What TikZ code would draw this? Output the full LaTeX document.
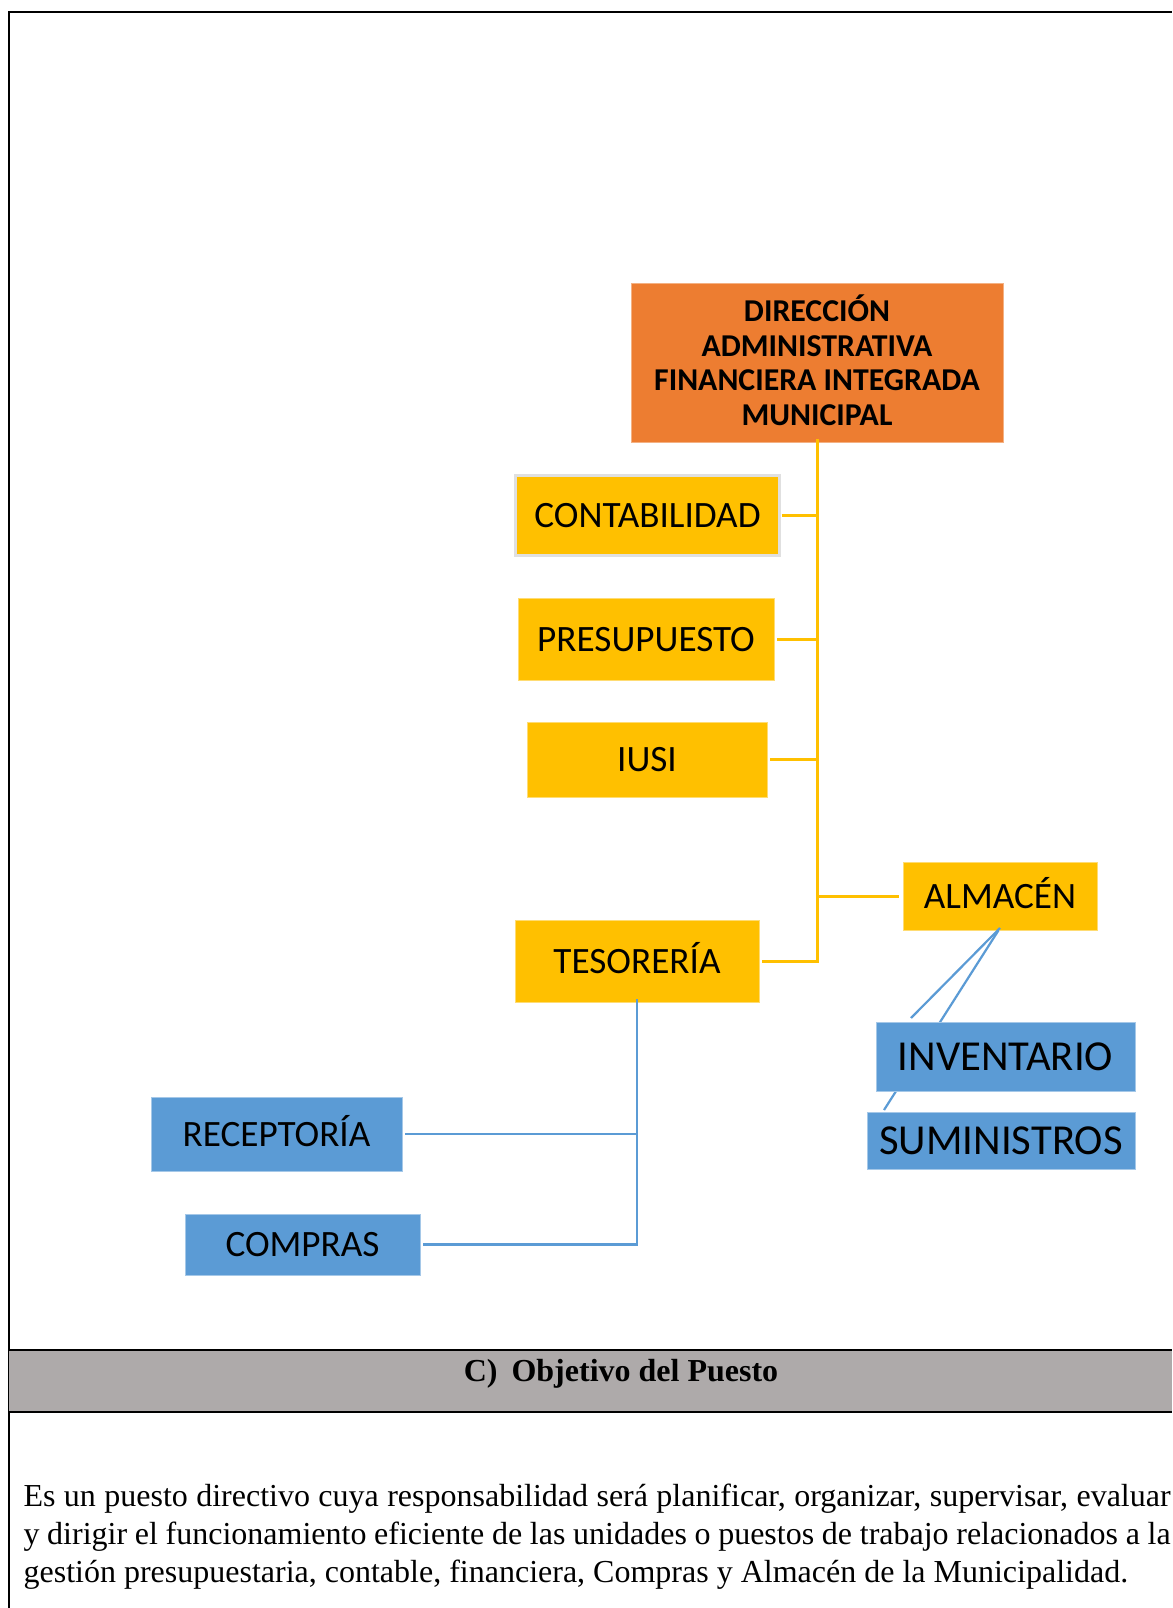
\documentclass[tikz,border=0pt]{standalone}
\usepackage{fontspec}
\setmainfont{Liberation Serif}
\newfontfamily\carl{Carlito}
\usetikzlibrary{calc,backgrounds}
\definecolor{orng}{HTML}{ED7D31}
\definecolor{ylw}{HTML}{FFC000}
\definecolor{blu}{HTML}{5B9BD5}
\definecolor{bandc}{HTML}{AEAAAA}
\tikzset{
  sz/.style 2 args={minimum width=#1pt, minimum height=#2pt, inner sep=0pt, outer sep=0pt},
  ybox/.style={fill=ylw, draw=ylw!55!white, line width=0.8pt,
    font=\carl\fontsize{37.2}{44}\selectfont, text height=24pt, text depth=0pt},
  bbox/.style={fill=blu, draw=blu!55!white, line width=0.8pt,
    font=\carl\fontsize{37.2}{44}\selectfont, text height=24pt, text depth=0pt},
  bboxbig/.style={bbox, font=\carl\fontsize{42.7}{50}\selectfont, text height=27.5pt},
  obox/.style={fill=orng, draw=orng!60!white, line width=0.8pt, align=center,
    font=\carl\bfseries\fontsize{31.8}{34.5}\selectfont},
  yline/.style={draw=ylw, line width=3pt},
  bline/.style={draw=blu, line width=2.8pt},
  frame/.style={draw=black, line width=2.5pt},
  para/.style={font=\fontsize{32}{38}\selectfont, inner sep=0pt, outer sep=0pt},
}
\begin{document}
\begin{tikzpicture}[x=1pt, y=-1pt]
\useasboundingbox (0,0) rectangle (1172,1608);

% frame and band
\draw[frame] (9,1608) -- (9,12) -- (1172,12);
\fill[bandc] (9,1350) rectangle (1172,1412);
\draw[frame] (9,1350) -- (1172,1350);
\draw[frame] (9,1412) -- (1172,1412);

% nodes
\node[obox, sz={372}{159}] (dir) at (817,362.5) {DIRECCIÓN\\ADMINISTRATIVA\\FINANCIERA INTEGRADA\\MUNICIPAL\rule[-5pt]{0pt}{5pt}};
\node[ybox, sz={264}{80}, draw=black!12, line width=3pt] (conta) at (647.5,515.5) {CONTABILIDAD};
\node[ybox, sz={256}{82}] (presu) at (646,639) {PRESUPUESTO};
\node[ybox, sz={240}{75}] (iusi) at (647,759.5) {IUSI};
\node[ybox, sz={244}{82}] (teso) at (637,961) {TESORERÍA};
\node[ybox, sz={194}{68}] (alma) at (1000,896) {ALMACÉN};
\node[bboxbig, sz={259}{69}] (inv) at (1005.5,1056.5) {INVENTARIO};
\node[bboxbig, sz={268}{57}] (sumi) at (1001,1140.5) {SUMINISTROS};
\node[bbox, sz={251}{74}] (recep) at (276.5,1134) {RECEPTORÍA};
\node[bbox, sz={235}{61}] (compras) at (302.5,1244.5) {COMPRAS};

% yellow connectors
\draw[yline] ([yshift=3pt]dir.south) -- (dir.south |- teso.east) -- ([xshift=3pt]teso.east);
\draw[yline] ([xshift=2pt]conta.east) -- (dir.south |- conta.east);
\draw[yline] ([xshift=3pt]presu.east) -- (dir.south |- presu.east);
\draw[yline] ([xshift=3pt]iusi.east) -- (dir.south |- iusi.east);
\draw[yline] (dir.south |- alma.west) -- ([xshift=-4pt]alma.west);

% blue connectors
\draw[bline] ([yshift=3pt]teso.south) -- (teso.south |- compras.east) -- ([xshift=3pt]compras.east);
\draw[bline] ([xshift=3pt]recep.east) -- (teso.south |- recep.east);
\coordinate (almabot) at ([yshift=2pt]alma.south);
\coordinate (invend) at ($(inv.north west)+(35,-4)$);
\coordinate (sumiend) at ($(sumi.north west)+(17,-2)$);
\draw[bline, line width=2.2pt] (almabot) -- (invend);
\begin{scope}[on background layer]
\fill[white] (0,0) rectangle (1172,1608);
\draw[bline, line width=2.2pt] (almabot) -- (sumiend);
\end{scope}

% heading and paragraph
\node[anchor=base, inner sep=0pt, font=\bfseries\fontsize{32}{38}\selectfont] (head) at (621,1381) {C)\hspace{14pt}Objetivo del Puesto};
\node[para, anchor=base west] (p1) at (23.6,1506) {\makebox[1147pt][s]{Es un puesto directivo cuya responsabilidad será planificar, organizar, supervisar, evaluar}};
\node[para, anchor=base west] (p2) at (23.6,1544) {\makebox[1147pt][s]{y dirigir el funcionamiento eficiente de las unidades o puestos de trabajo relacionados a la}};
\node[para, anchor=base west] (p3) at (23.6,1582) {gestión presupuestaria, contable, financiera, Compras y Almacén de la Municipalidad.};
\end{tikzpicture}
\end{document}
